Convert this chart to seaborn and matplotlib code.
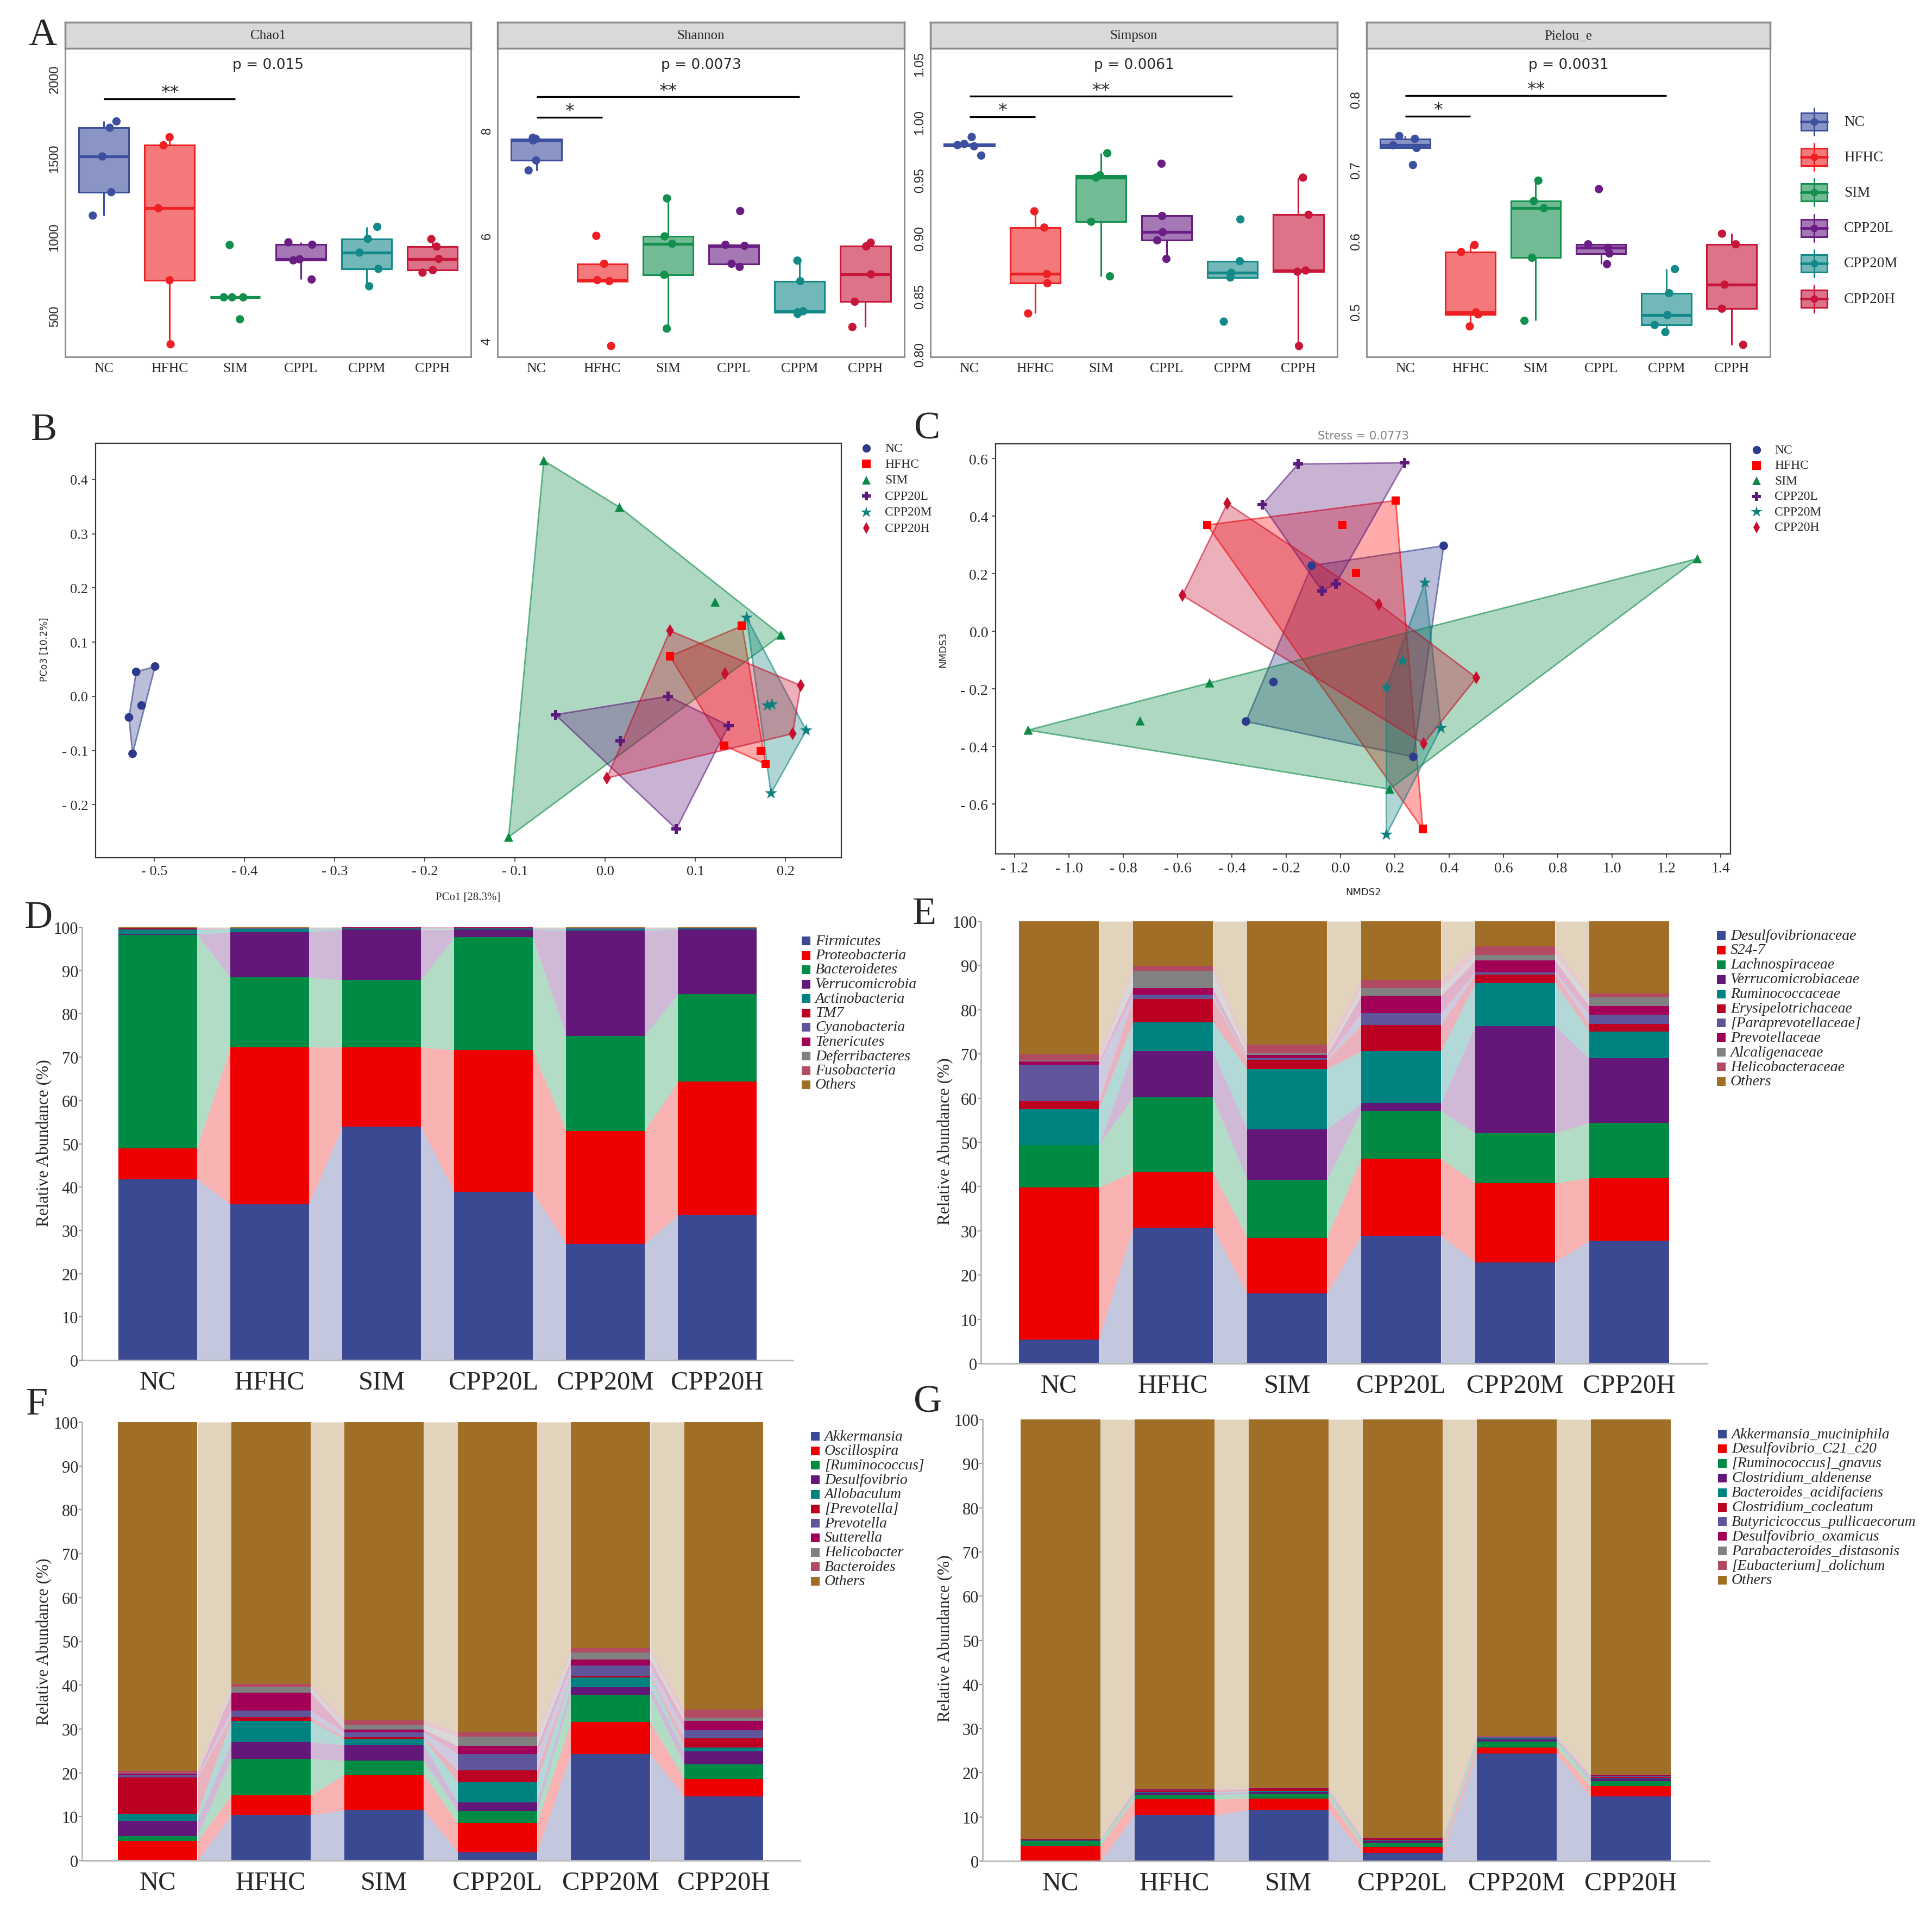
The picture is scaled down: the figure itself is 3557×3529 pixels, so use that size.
import numpy as np
import pandas as pd
import matplotlib
matplotlib.use("Agg")
import matplotlib.pyplot as plt
import seaborn as sns
from matplotlib.colors import to_rgba
from matplotlib.patches import Rectangle, Polygon
from matplotlib.ticker import FuncFormatter

sns.set_style("white")
plt.rcParams["font.family"] = ["Liberation Serif", "DejaVu Serif"]
plt.rcParams["axes.unicode_minus"] = False

# ------------------------------------------------------------------ data
alpha_groups = ["NC", "HFHC", "SIM", "CPPL", "CPPM", "CPPH"]
alpha_legend = ["NC", "HFHC", "SIM", "CPP20L", "CPP20M", "CPP20H"]
alpha_colors = ["#3D4F9F", "#EE2024", "#14904E", "#6A1E84", "#14898A", "#C7163A"]

chao1 = [[1134, 1282, 1508, 1690, 1730],
         [320, 725, 1181, 1579, 1630],
         [478, 617, 617, 617, 948],
         [730, 851, 858, 950, 965],
         [687, 797, 900, 987, 1063],
         [773, 789, 860, 938, 985]]
shannon = [[7.23, 7.42, 7.80, 7.83, 7.85],
           [3.90, 5.13, 5.15, 5.46, 5.99],
           [4.23, 5.25, 5.84, 5.98, 6.70],
           [5.40, 5.46, 5.80, 5.82, 6.46],
           [4.51, 4.54, 4.56, 5.13, 5.52],
           [4.26, 4.74, 5.26, 5.79, 5.86]]
simpson = [[0.971, 0.979, 0.980, 0.981, 0.987],
           [0.835, 0.861, 0.869, 0.909, 0.923],
           [0.867, 0.914, 0.952, 0.954, 0.973],
           [0.882, 0.898, 0.905, 0.919, 0.964],
           [0.828, 0.866, 0.870, 0.880, 0.916],
           [0.807, 0.871, 0.872, 0.920, 0.952]]
pielou = [[0.707, 0.731, 0.735, 0.744, 0.748],
          [0.479, 0.496, 0.499, 0.584, 0.594],
          [0.487, 0.576, 0.646, 0.656, 0.685],
          [0.567, 0.582, 0.590, 0.595, 0.673],
          [0.471, 0.481, 0.495, 0.526, 0.560],
          [0.453, 0.504, 0.538, 0.595, 0.610]]
alpha_pvalues = ["p = 0.015", "p = 0.0073", "p = 0.0061", "p = 0.0031"]

beta_groups = ["NC", "HFHC", "SIM", "CPP20L", "CPP20M", "CPP20H"]
beta_colors = ["#2E3A8C", "#FF0000", "#0B8A45", "#5C1A7C", "#0F8080", "#C80F2E"]
beta_markers = ["o", "s", "^", "P", "*", "d"]
beta_sizes = [130, 130, 150, 170, 300, 150]

pcoa_x = [[-0.520, -0.499, -0.514, -0.528, -0.524],
          [0.152, 0.072, 0.132, 0.173, 0.178],
          [-0.068, 0.016, 0.122, 0.195, -0.107],
          [-0.055, 0.070, 0.137, 0.017, 0.079],
          [0.157, 0.180, 0.185, 0.223, 0.184],
          [0.072, 0.133, 0.217, 0.208, 0.002]]
pcoa_y = [[0.045, 0.055, -0.017, -0.039, -0.106],
          [0.130, 0.074, -0.091, -0.101, -0.125],
          [0.435, 0.349, 0.174, 0.113, -0.260],
          [-0.034, 0.000, -0.054, -0.082, -0.245],
          [0.145, -0.017, -0.015, -0.063, -0.179],
          [0.121, 0.042, 0.020, -0.069, -0.151]]
nmds_x = [[0.380, -0.106, -0.247, -0.348, 0.268],
          [0.203, -0.491, 0.007, 0.057, 0.303],
          [1.314, -0.482, -0.738, -1.150, 0.181],
          [-0.156, 0.236, -0.288, -0.068, -0.017],
          [0.311, 0.229, 0.169, 0.370, 0.169],
          [-0.417, -0.582, 0.141, 0.500, 0.306]]
nmds_y = [[0.297, 0.228, -0.176, -0.313, -0.436],
          [0.454, 0.369, 0.369, 0.203, -0.687],
          [0.252, -0.179, -0.311, -0.343, -0.548],
          [0.581, 0.585, 0.439, 0.140, 0.165],
          [0.169, -0.103, -0.195, -0.336, -0.706],
          [0.444, 0.125, 0.094, -0.161, -0.390]]

bar_groups = ["NC", "HFHC", "SIM", "CPP20L", "CPP20M", "CPP20H"]
stack_colors = ["#3B4992", "#EE0000", "#008B45", "#631879", "#008280", "#BB0021",
                "#5F559B", "#A20056", "#808180", "#B24B61", "#A06E26"]

phylum_names = ["Firmicutes", "Proteobacteria", "Bacteroidetes", "Verrucomicrobia",
                "Actinobacteria", "TM7", "Cyanobacteria", "Tenericutes",
                "Deferribacteres", "Fusobacteria", "Others"]
phylum_pct = [[41.8, 36.0, 54.0, 38.9, 26.9, 33.5],
              [7.1, 36.3, 18.3, 32.7, 26.0, 30.9],
              [49.4, 16.1, 15.5, 26.1, 22.0, 20.2],
              [0.1, 10.5, 11.7, 1.8, 24.3, 14.9],
              [1.1, 0.7, 0.3, 0.3, 0.4, 0.2],
              [0.3, 0.05, 0.05, 0.05, 0.05, 0.05],
              [0.05, 0.05, 0.05, 0.05, 0.05, 0.05],
              [0.05, 0.05, 0.05, 0.05, 0.05, 0.05],
              [0.0, 0.05, 0.0, 0.0, 0.0, 0.0],
              [0.0, 0.0, 0.0, 0.0, 0.0, 0.0],
              [0.1, 0.2, 0.05, 0.05, 0.25, 0.15]]

family_names = ["Desulfovibrionaceae", "S24-7", "Lachnospiraceae", "Verrucomicrobiaceae",
                "Ruminococcaceae", "Erysipelotrichaceae", "[Paraprevotellaceae]",
                "Prevotellaceae", "Alcaligenaceae", "Helicobacteraceae", "Others"]
family_pct = [[5.4, 30.7, 15.8, 28.9, 22.9, 27.8],
              [34.4, 12.6, 12.6, 17.4, 17.9, 14.1],
              [9.6, 16.9, 13.1, 10.8, 11.3, 12.5],
              [0.0, 10.4, 11.5, 1.7, 24.2, 14.6],
              [8.1, 6.5, 13.6, 11.8, 9.7, 6.1],
              [1.8, 5.3, 2.1, 5.9, 2.0, 1.7],
              [8.3, 1.0, 0.3, 2.7, 0.5, 2.1],
              [0.7, 1.5, 0.8, 4.0, 2.6, 1.9],
              [0.3, 3.9, 0.5, 1.7, 1.3, 2.0],
              [1.3, 1.1, 1.8, 1.8, 2.0, 0.8],
              [30.1, 10.1, 27.9, 13.3, 5.6, 16.4]]

genus_names = ["Akkermansia", "Oscillospira", "[Ruminococcus]", "Desulfovibrio",
               "Allobaculum", "[Prevotella]", "Prevotella", "Sutterella",
               "Helicobacter", "Bacteroides", "Others"]
genus_pct = [[0.0, 10.4, 11.5, 1.9, 24.3, 14.6],
             [4.4, 4.5, 8.0, 6.6, 7.3, 4.0],
             [1.2, 8.3, 3.3, 2.8, 6.2, 3.3],
             [3.5, 3.8, 3.6, 1.9, 1.7, 3.0],
             [1.6, 4.9, 1.3, 4.7, 2.3, 0.9],
             [8.3, 0.8, 0.4, 2.7, 0.3, 2.1],
             [0.5, 1.5, 1.1, 3.7, 2.4, 1.9],
             [0.3, 4.1, 0.7, 1.8, 1.3, 2.1],
             [0.2, 1.2, 1.1, 2.1, 1.7, 0.7],
             [0.4, 0.8, 1.0, 1.0, 0.9, 1.9],
             [79.6, 59.7, 68.0, 70.8, 51.6, 65.5]]

species_names = ["Akkermansia_muciniphila", "Desulfovibrio_C21_c20", "[Ruminococcus]_gnavus",
                 "Clostridium_aldenense", "Bacteroides_acidifaciens", "Clostridium_cocleatum",
                 "Butyricicoccus_pullicaecorum", "Desulfovibrio_oxamicus",
                 "Parabacteroides_distasonis", "[Eubacterium]_dolichum", "Others"]
species_pct = [[0.0, 10.4, 11.6, 1.8, 24.3, 14.6],
               [3.4, 3.6, 2.6, 1.4, 1.4, 2.4],
               [1.1, 1.0, 1.0, 0.9, 1.4, 1.1],
               [0.2, 0.5, 0.4, 0.4, 0.5, 0.6],
               [0.1, 0.1, 0.3, 0.2, 0.2, 0.1],
               [0.1, 0.4, 0.4, 0.3, 0.1, 0.3],
               [0.1, 0.1, 0.1, 0.1, 0.1, 0.2],
               [0.05, 0.1, 0.05, 0.1, 0.1, 0.1],
               [0.05, 0.1, 0.05, 0.05, 0.1, 0.05],
               [0.0, 0.1, 0.0, 0.05, 0.1, 0.05],
               [94.9, 83.6, 83.5, 94.7, 71.7, 80.5]]

# ------------------------------------------------------------------ figure
W, H = 3557, 3530
fig = plt.figure(figsize=(W / 100, H / 100), dpi=100)
fig.patch.set_facecolor("white")


def add_ax(x0, y0, x1, y1):
    return fig.add_axes([x0 / W, 1 - y1 / H, (x1 - x0) / W, (y1 - y0) / H])


# ------------------------------------------------------------------ panel A
metric_specs = [
    ("Chao1", chao1, (240, 2192), [500, 1000, 1500, 2000], ["500", "1000", "1500", "2000"],
     [(0, 2, 1874, "**")]),
    ("Shannon", shannon, (3.693, 9.546), [4, 6, 8], ["4", "6", "8"],
     [(0, 1, 8.24, "*"), (0, 4, 8.63, "**")]),
    ("Simpson", simpson, (0.7976, 1.0633), [0.80, 0.85, 0.90, 0.95, 1.00, 1.05],
     ["0.80", "0.85", "0.90", "0.95", "1.00", "1.05"],
     [(0, 1, 1.0045, "*"), (0, 4, 1.0221, "**")]),
    ("Pielou_e", pielou, (0.4359, 0.8718), [0.5, 0.6, 0.7, 0.8], ["0.5", "0.6", "0.7", "0.8"],
     [(0, 1, 0.776, "*"), (0, 4, 0.8053, "**")]),
]
a_x = [(120, 867), (916, 1665), (1713, 2462), (2516, 3259)]
np.random.seed(7)
for k, (title, vals, ylim, yt, ytl, sigs) in enumerate(metric_specs):
    x0, x1 = a_x[k]
    ax = add_ax(x0, 90, x1, 658)
    df = pd.DataFrame({"group": np.repeat(alpha_groups, [len(v) for v in vals]),
                       "value": np.concatenate(vals)})
    for g, c in zip(alpha_groups, alpha_colors):
        n0 = len(ax.patches)
        sns.boxplot(data=df[df.group == g], x="group", y="value", order=alpha_groups,
                    color=c, linecolor=c, saturation=1, width=0.76, linewidth=2.2,
                    showfliers=False, showcaps=False,
                    medianprops=dict(linewidth=3.8, color=c), ax=ax)
        for p in ax.patches[n0:]:
            p.set_facecolor(to_rgba(c, 0.6))
            p.set_edgecolor(c)
    sns.stripplot(data=df, x="group", y="value", hue="group", order=alpha_groups,
                  hue_order=alpha_groups, palette=alpha_colors, jitter=0.2, size=11,
                  linewidth=0, legend=False, ax=ax, zorder=5)
    ax.set_xlim(-0.59, 5.59)
    ax.set_ylim(*ylim)
    ax.set_yticks(yt)
    ax.set_yticklabels(ytl, rotation=90, va="center", family="Liberation Sans", fontsize=17)
    ax.set_xlabel("")
    ax.set_ylabel("")
    ax.tick_params(axis="both", color="#7F7F7F", length=5, width=1.5)
    ax.tick_params(axis="y", pad=1)
    ax.tick_params(axis="x", labelsize=18.5, pad=2)
    for s in ax.spines.values():
        s.set_color("#8A8A8A")
        s.set_linewidth(2)
    for (i, j, yv, star) in sigs:
        ax.plot([i, j], [yv, yv], color="black", lw=2.4, solid_capstyle="butt")
        ax.annotate(star, xy=((i + j) / 2, yv), xytext=(0, 1), textcoords="offset points",
                    ha="center", va="baseline", fontsize=24, family="DejaVu Sans")
    ax.text(0.5, 0.9466, alpha_pvalues[k], transform=ax.transAxes, ha="center", va="center",
            fontsize=19, family="DejaVu Sans")
    sax = add_ax(x0, 42, x1, 90)
    sax.set_facecolor("#D9D9D9")
    sax.set_xticks([])
    sax.set_yticks([])
    for s in sax.spines.values():
        s.set_color("#8A8A8A")
        s.set_linewidth(2.5)
    sax.text(0.5, 0.5, title, ha="center", va="center", fontsize=18, transform=sax.transAxes)


# ------------------------------------------------------------------ panels B, C
def hull(points):
    pts = sorted(set(map(tuple, points)))
    if len(pts) <= 2:
        return pts

    def cross(o, a, b):
        return (a[0] - o[0]) * (b[1] - o[1]) - (a[1] - o[1]) * (b[0] - o[0])
    lower, upper = [], []
    for p in pts:
        while len(lower) >= 2 and cross(lower[-2], lower[-1], p) <= 0:
            lower.pop()
        lower.append(p)
    for p in reversed(pts):
        while len(upper) >= 2 and cross(upper[-2], upper[-1], p) <= 0:
            upper.pop()
        upper.append(p)
    return lower[:-1] + upper[:-1]


def tick_fmt(v, pos):
    if v < -1e-9:
        return "- " + f"{abs(v):.1f}"
    return f"{abs(v):.1f}"


def ordination(ax, xs, ys, xlim, ylim, xt, yt, tick_size):
    for xv, yv, c in zip(xs, ys, beta_colors):
        hp = hull(list(zip(xv, yv)))
        ax.add_patch(Polygon(hp, closed=True, facecolor=to_rgba(c, 0.33),
                             edgecolor=to_rgba(c, 0.6), lw=2))
    df = pd.DataFrame({"x": np.concatenate(xs), "y": np.concatenate(ys),
                       "group": np.repeat(beta_groups, [len(v) for v in xs])})
    sns.scatterplot(data=df, x="x", y="y", hue="group", style="group", size="group",
                    hue_order=beta_groups, style_order=beta_groups, size_order=beta_groups,
                    palette=beta_colors, sizes=dict(zip(beta_groups, beta_sizes)),
                    markers=dict(zip(beta_groups, beta_markers)), linewidth=0,
                    legend=False, ax=ax, zorder=4)
    ax.set_xlim(*xlim)
    ax.set_ylim(*ylim)
    ax.set_xticks(xt)
    ax.set_yticks(yt)
    ax.xaxis.set_major_formatter(FuncFormatter(tick_fmt))
    ax.yaxis.set_major_formatter(FuncFormatter(tick_fmt))
    ax.set_xlabel("")
    ax.set_ylabel("")
    ax.tick_params(axis="both", labelsize=tick_size, length=5, width=1.2, color="#333333",
                   pad=5, direction="out", bottom=True, left=True)
    for s in ax.spines.values():
        s.set_color("#333333")
        s.set_linewidth(1.6)


axB = add_ax(176, 817, 1549, 1580)
ordination(axB, pcoa_x, pcoa_y, (-0.565, 0.262), (-0.298, 0.467),
           np.round(np.arange(-0.5, 0.21, 0.1), 1), np.round(np.arange(-0.2, 0.41, 0.1), 1), 19)
axC = add_ax(1833, 818, 3186, 1573)
ordination(axC, nmds_x, nmds_y, (-1.27, 1.436), (-0.773, 0.651),
           np.round(np.arange(-1.2, 1.41, 0.2), 1), np.round(np.arange(-0.6, 0.61, 0.2), 1), 20)


# ------------------------------------------------------------------ panels D-G
def stacked(ax, pct, xlim):
    vals = np.array(pct, dtype=float)
    tops = np.cumsum(vals, axis=0)
    bots = tops - vals
    w = 0.70
    n = vals.shape[0]
    for k in range(n):
        for i in range(len(bar_groups) - 1):
            ax.fill_between([i + w / 2, i + 1 - w / 2], [bots[k, i], bots[k, i + 1]],
                            [tops[k, i], tops[k, i + 1]], color=stack_colors[k],
                            alpha=0.3, lw=0)
    for k in reversed(range(n)):
        sns.barplot(x=bar_groups, y=tops[k], order=bar_groups, color=stack_colors[k],
                    width=w, saturation=1, errorbar=None, linewidth=0, ax=ax)
    ax.set_xlim(*xlim)
    ax.set_ylim(0, 100)
    ax.set_yticks(np.arange(0, 101, 10))
    ax.set_xlabel("")
    ax.set_ylabel("")
    ax.spines["top"].set_visible(False)
    ax.spines["right"].set_visible(False)
    for s in ("left", "bottom"):
        ax.spines[s].set_color("#BBBBBB")
        ax.spines[s].set_linewidth(2.2)
    ax.tick_params(axis="y", length=4, width=1.5, color="#999999", pad=1, labelsize=22, left=True)
    ax.tick_params(axis="x", length=0, labelsize=35, pad=14)


axD = add_ax(151, 1708, 1460, 2505)
stacked(axD, phylum_pct, (-0.677, 5.677))
axE = add_ax(1806, 1697, 3143, 2511)
stacked(axE, family_pct, (-0.683, 5.683))
axF = add_ax(151, 2619, 1473, 3426)
stacked(axF, genus_pct, (-0.669, 5.674))
axG = add_ax(1809, 2614, 3147, 3427)
stacked(axG, species_pct, (-0.681, 5.69))

# ------------------------------------------------------------------ overlay (letters, legends, labels)
ov = fig.add_axes([0, 0, 1, 1], zorder=20)
ov.set_xlim(0, W)
ov.set_ylim(H, 0)
ov.axis("off")
ov.set_autoscale_on(False)

for letter, lx, ly in [("A", 52, 83), ("B", 57, 810), ("C", 1683, 807), ("D", 45, 1708),
                       ("E", 1680, 1701), ("F", 48, 2604), ("G", 1682, 2600)]:
    ov.text(lx, ly, letter, fontsize=52, ha="left", va="baseline")

# legend A (box keys)
for i, (lab, c) in enumerate(zip(alpha_legend, alpha_colors)):
    yc = 225 + 65.2 * i
    xc = 3340
    ov.plot([xc, xc], [yc - 25, yc + 25], color=c, lw=2.2)
    ov.add_patch(Rectangle((xc - 24, yc - 16), 48, 32, facecolor=to_rgba(c, 0.6),
                           edgecolor=c, lw=2.2))
    ov.plot([xc - 24, xc + 24], [yc, yc], color=c, lw=3.5)
    ov.plot([xc], [yc], "o", color=c, ms=9)
    ov.text(3395, yc, lab, fontsize=19.5, ha="left", va="center")

# legends B, C
for (mx, tx, y0, dy) in [(1595, 1629, 826, 29.4), (3234, 3267, 829, 28.5)]:
    for i, (lab, c, m) in enumerate(zip(beta_groups, beta_colors, beta_markers)):
        yc = y0 + dy * i
        ov.plot([mx], [yc], marker=m, color=c, ms=16 if m == "*" else 11, ls="none", mew=0)
        ov.text(tx, yc, lab, fontsize=17, ha="left", va="center")

ov.text(862, 1652, "PCo1 [28.3%]", fontsize=15, ha="center", va="center")
ov.text(82, 1196, "PCo3 [10.2%]", fontsize=12.5, ha="center", va="center", rotation=90,
        family="DejaVu Sans")
ov.text(2510, 1643, "NMDS2", fontsize=13, ha="center", va="center", family="DejaVu Sans")
ov.text(1736, 1196, "NMDS3", fontsize=13, ha="center", va="center", rotation=90,
        family="DejaVu Sans")
ov.text(2510, 803, "Stress = 0.0773", fontsize=15, ha="center", va="center",
        family="DejaVu Sans", color="#808080")

# legends D-G
for (names, xc, y0, dy) in [(phylum_names, 1484, 1733, 26.5), (family_names, 3169, 1723, 26.9),
                            (genus_names, 1501, 2645, 26.7), (species_names, 3171, 2641, 26.9)]:
    for i, (nm, c) in enumerate(zip(names, stack_colors)):
        yc = y0 + dy * i
        ov.add_patch(Rectangle((xc - 8, yc - 8), 16, 16, color=c, lw=0))
        ov.text(xc + 17, yc, nm, fontsize=20, style="italic", ha="left", va="center")

for (lx, ly) in [(82, 2104), (1741, 2101), (82, 3022), (1741, 3016)]:
    ov.text(lx, ly, "Relative Abundance (%)", fontsize=22.5,
            rotation=90, ha="center", va="center")

fig.savefig("out.png", dpi=100, facecolor="white")
